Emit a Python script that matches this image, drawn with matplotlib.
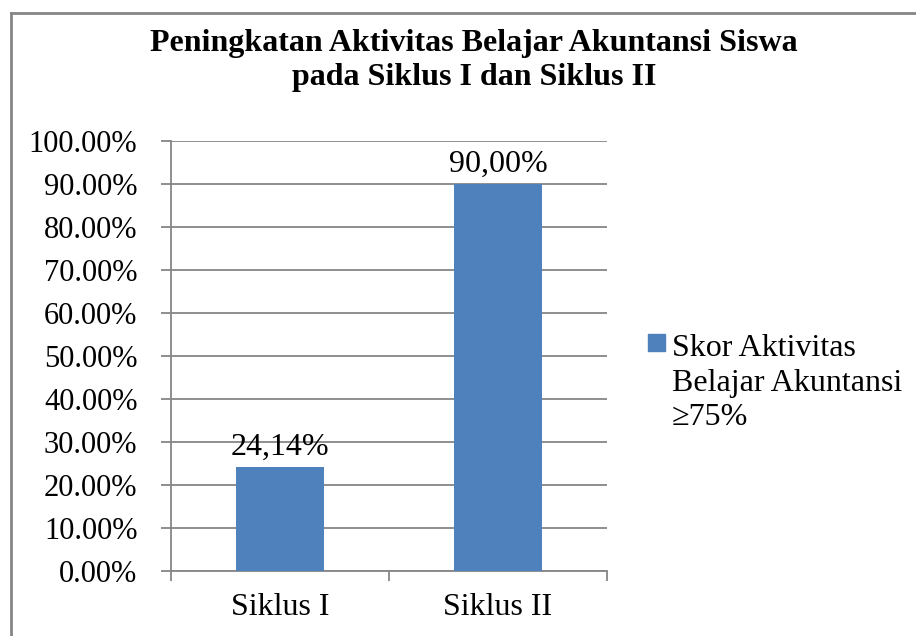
import matplotlib.pyplot as plt
from matplotlib.ticker import FuncFormatter
from matplotlib.lines import Line2D
from matplotlib.patches import Rectangle

categories = ["Siklus I", "Siklus II"]
values = [24.14, 90.00]
value_labels = ["24,14%", "90,00%"]
yticks = [0, 10, 20, 30, 40, 50, 60, 70, 80, 90, 100]
series_name = "Skor Aktivitas\nBelajar Akuntansi\n\u226575%"
title = "Peningkatan Aktivitas Belajar Akuntansi Siswa\npada Siklus I dan Siklus II"

plt.rcParams['font.family'] = ['Liberation Serif', 'DejaVu Serif']
W, H = 916, 636
fig = plt.figure(figsize=(W / 100, H / 100), dpi=100)
blue = '#4F81BD'
grey = '#868686'

# outer chart border (only left and top visible in the reference)
fig.add_artist(Line2D([10.5 / W, 10.5 / W], [0, 1 - 12.5 / H], color=grey, lw=2, transform=fig.transFigure))
fig.add_artist(Line2D([10.5 / W, 1], [1 - 12.5 / H, 1 - 12.5 / H], color=grey, lw=2, transform=fig.transFigure))

# plot area: x 171..607, y 141..571 (pixels)
ax = fig.add_axes([171 / W, 1 - 571 / H, (607 - 171) / W, (571 - 141) / H])
x = range(len(categories))
bars = ax.bar(x, values, width=0.4, color=blue, zorder=3)
ax.set_xlim(-0.5, len(categories) - 0.5)
ax.set_ylim(0, 100)
ax.set_yticks(yticks)
ax.yaxis.set_major_formatter(FuncFormatter(lambda v, p: f"{v:.2f}%"))
ax.yaxis.grid(True, color=grey, lw=1.3, zorder=0)
ax.set_axisbelow(True)

ax.set_xticks([i - 0.5 for i in range(len(categories) + 1)])
ax.set_xticklabels([])
ax.set_xticks(list(x), minor=True)
ax.set_xticklabels(categories, minor=True)
ax.tick_params(axis='x', which='minor', length=0, labelsize=23, pad=16)
ax.tick_params(axis='x', which='major', length=7, width=1.3, color=grey)
ax.tick_params(axis='y', length=7.2, width=1.3, color=grey, labelsize=22, pad=17)

for s in ['top', 'right']:
    ax.spines[s].set_visible(False)
for s in ['left', 'bottom']:
    ax.spines[s].set_color(grey)
    ax.spines[s].set_linewidth(1.3)

for b, lab in zip(bars, value_labels):
    ax.annotate(lab, (b.get_x() + b.get_width() / 2, b.get_height()), xytext=(0, 4),
                textcoords='offset points', ha='center', va='bottom', fontsize=23)

fig.text(474 / W, 1 - 60.5 / H, title, ha='center', va='center', fontsize=23,
         fontweight='bold', linespacing=1.22)

# legend: square beside the first line of the label
fig.add_artist(Rectangle((648 / W, 1 - 351 / H), 17 / W, 17 / H, color=blue,
                         transform=fig.transFigure))
fig.text(672 / W, 1 - 334 / H, series_name, ha='left', va='top', fontsize=23,
         linespacing=1.26)

fig.savefig('out.png', dpi=100)
